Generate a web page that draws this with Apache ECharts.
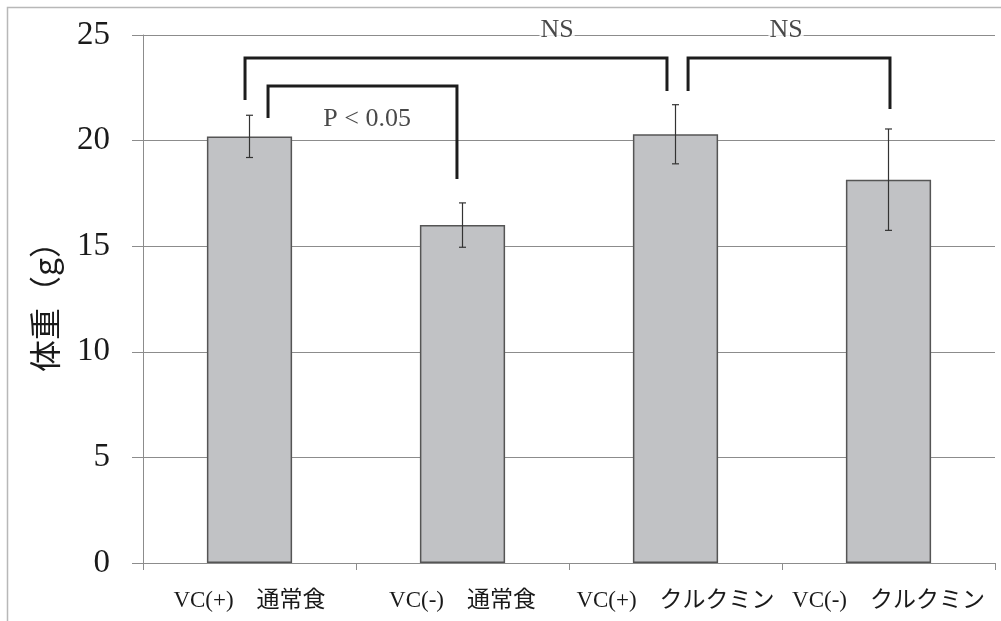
<!DOCTYPE html>
<html>
<head>
<meta charset="utf-8">
<script src="https://cdn.jsdelivr.net/npm/echarts@6/dist/echarts.min.js"></script>
<style>
  html, body { margin: 0; padding: 0; background: #fff; }
  #chart { width: 1001px; height: 621px; }
</style>
</head>
<body>
<div id="chart"></div>
<script>
// Body weight per group (g), mean ± SD
const categories = ['VC(+)\u3000通常食', 'VC(-)\u3000通常食', 'VC(+)\u3000クルクミン', 'VC(-)\u3000クルクミン'];
const weights = [20.2, 16.0, 20.3, 18.15];
const errors = [1.0, 1.05, 1.4, 2.4];
const yTicks = [0, 5, 10, 15, 20, 25];

// Significance brackets, in axis units (x: category position, y: grams)
const bracketLeftX   = [-0.021, 0.087, 2.059];
const bracketRightX  = [1.960, 0.974, 3.007];
const bracketTopY    = [23.91, 22.59, 23.91];
const bracketLeftEnd = [21.92, 21.07, 22.35];
const bracketRightEnd= [22.35, 18.18, 21.50];

// Annotation texts and their anchor points
const noteTexts = ['P < 0.05', 'NS', 'NS'];
const noteX = [0.552, 1.444, 2.519];
const noteY = [21.0, 25.24, 25.24];

const serif = "'Liberation Serif', 'Noto Sans CJK JP', serif";
const gridGray = '#8c8c8c';

const errorData = weights.map((w, i) => [i, w - errors[i], w + errors[i]]);

const bracketSeries = bracketLeftX.map((lx, i) => ({
  type: 'line',
  xAxisIndex: 1,
  yAxisIndex: 0,
  symbol: 'none',
  silent: true,
  z: 5,
  lineStyle: { color: '#1c1c1c', width: 3, join: 'miter' },
  data: [
    [lx, bracketLeftEnd[i]],
    [lx, bracketTopY[i]],
    [bracketRightX[i], bracketTopY[i]],
    [bracketRightX[i], bracketRightEnd[i]]
  ]
}));

const noteSeries = {
  type: 'scatter',
  xAxisIndex: 1,
  yAxisIndex: 0,
  symbolSize: 0,
  clip: false,
  silent: true,
  z: 6,
  data: noteTexts.map((t, i) => ({ value: [noteX[i], noteY[i]], name: t })),
  label: {
    show: true,
    position: 'inside',
    formatter: p => p.name,
    fontFamily: serif,
    color: '#1a1a1a',
    fontSize: 26,
    backgroundColor: '#fff',
    padding: [0, 1]
  }
};

const chart = echarts.init(document.getElementById('chart'), null, { renderer: 'canvas' });

chart.setOption({
  animation: false,
  backgroundColor: '#fff',
  graphic: [{
    type: 'rect',
    silent: true,
    shape: { x: 7.5, y: 7.5, width: 1100, height: 700 },
    style: { fill: 'none', stroke: '#b8b8b8', lineWidth: 1.5 }
  }],
  grid: { left: 143, right: 6, top: 35, bottom: 58, containLabel: false },
  xAxis: [{
    type: 'category',
    data: categories,
    boundaryGap: true,
    axisLine: { show: true, onZero: false, lineStyle: { color: gridGray, width: 1 } },
    axisTick: { show: true, length: 7, lineStyle: { color: gridGray } },
    axisLabel: {
      interval: 0,
      margin: 26,
      fontSize: 23,
      fontFamily: serif,
      color: '#1a1a1a'
    },
    splitLine: { show: false }
  }, {
    type: 'value',
    min: -0.5,
    max: 3.5,
    show: false,
    position: 'top',
    axisLine: { onZero: false }
  }],
  yAxis: {
    type: 'value',
    min: yTicks[0],
    max: yTicks[yTicks.length - 1],
    interval: 5,
    name: '体重（g）',
    nameLocation: 'middle',
    nameGap: 82,
    nameTextStyle: {
      fontSize: 32,
      fontFamily: "'Noto Sans CJK JP', sans-serif",
      color: '#1a1a1a'
    },
    axisLine: { show: true, onZero: false, lineStyle: { color: gridGray, width: 1 } },
    axisTick: { show: true, length: 11, lineStyle: { color: gridGray } },
    axisLabel: {
      margin: 33,
      fontSize: 33,
      fontFamily: serif,
      color: '#1a1a1a'
    },
    splitLine: { show: true, lineStyle: { color: gridGray, width: 1 } }
  },
  series: [{
    type: 'bar',
    data: weights,
    barWidth: '40%',
    itemStyle: { color: '#c1c2c5', borderColor: '#555', borderWidth: 1.5 },
    z: 2
  }, {
    type: 'custom',
    data: errorData,
    encode: { x: 0, y: [1, 2] },
    z: 4,
    renderItem: function (params, api) {
      const i = api.value(0);
      const lo = api.coord([i, api.value(1)]);
      const hi = api.coord([i, api.value(2)]);
      const cap = 3.5;
      const st = { stroke: '#333', lineWidth: 1.2 };
      return {
        type: 'group',
        children: [
          { type: 'line', shape: { x1: hi[0], y1: hi[1], x2: lo[0], y2: lo[1] }, style: st },
          { type: 'line', shape: { x1: hi[0] - cap, y1: hi[1], x2: hi[0] + cap, y2: hi[1] }, style: st },
          { type: 'line', shape: { x1: lo[0] - cap, y1: lo[1], x2: lo[0] + cap, y2: lo[1] }, style: st }
        ]
      };
    }
  }].concat(bracketSeries, [noteSeries])
});
</script>
</body>
</html>
